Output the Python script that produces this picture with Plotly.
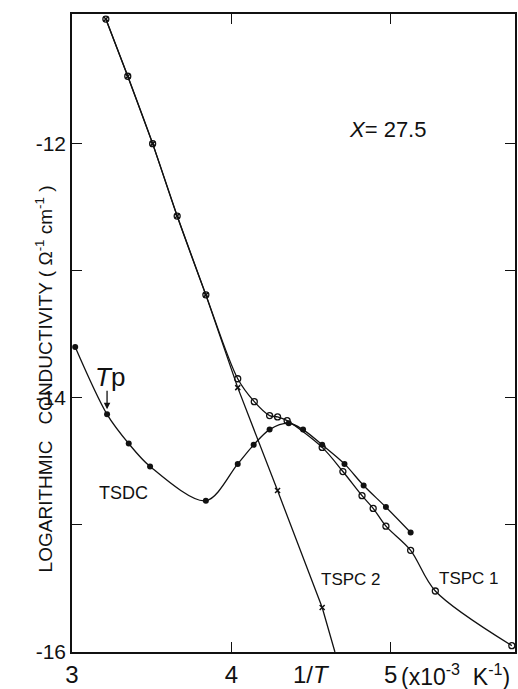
import plotly.graph_objects as go

# ---- data ----
tspc2_x = [3.2125, 3.35, 3.506, 3.66, 3.84, 4.04, 4.29, 4.57]
tspc2_y = [-11.02, -11.47, -12.00, -12.57, -13.19, -13.92, -14.73, -15.65]
tspc2_end_x = [4.65]
tspc2_end_y = [-16.0]

tspc1_x = [3.2125, 3.35, 3.506, 3.66, 3.84, 4.04, 4.144, 4.24, 4.29, 4.35,
           4.57, 4.70, 4.82, 4.89, 4.97, 5.125, 5.28, 5.76]
tspc1_y = [-11.02, -11.47, -12.00, -12.57, -13.19, -13.85, -14.03, -14.14, -14.15, -14.18,
           -14.39, -14.58, -14.77, -14.87, -15.01, -15.20, -15.52, -15.95]

tsdc_x = [3.02, 3.22, 3.356, 3.49, 3.84, 4.04, 4.14, 4.24, 4.36, 4.45,
          4.57, 4.71, 4.83, 4.97, 5.125]
tsdc_y = [-13.60, -14.13, -14.36, -14.54, -14.81, -14.52, -14.37, -14.25, -14.20, -14.25,
          -14.37, -14.52, -14.69, -14.86, -15.06]

x_ticks = [3, 4, 5]
x_ticklabels = ["3", "4", "5"]
y_ticks = [-16, -15, -14, -13, -12]
y_ticklabels = ["-16", " ", "-14", " ", "-12"]

FONT = "Liberation Sans, Arial, sans-serif"
BLACK = "#111111"

fig = go.Figure()

# TSPC2: straight line
fig.add_trace(go.Scatter(x=tspc2_x + tspc2_end_x, y=tspc2_y + tspc2_end_y, mode="lines",
                         line=dict(color=BLACK, width=1.3), showlegend=False, cliponaxis=False))
fig.add_trace(go.Scatter(x=tspc2_x, y=tspc2_y, mode="markers",
                         marker=dict(symbol="x-thin", size=5, line=dict(color=BLACK, width=1.5)),
                         showlegend=False, cliponaxis=False))
# TSPC1: open circles, smooth
fig.add_trace(go.Scatter(x=tspc1_x, y=tspc1_y, mode="lines+markers",
                         line=dict(color=BLACK, width=1.3, shape="spline", smoothing=0.9),
                         marker=dict(symbol="circle-open", size=6, color=BLACK, line=dict(width=1.3)),
                         showlegend=False, cliponaxis=False))
# TSDC: filled circles, smooth
fig.add_trace(go.Scatter(x=tsdc_x, y=tsdc_y, mode="lines+markers",
                         line=dict(color=BLACK, width=1.3, shape="spline", smoothing=0.9),
                         marker=dict(symbol="circle", size=6, color=BLACK),
                         showlegend=False, cliponaxis=False))

annotations = [
    dict(x=4.98, y=-11.89, text="<i>X</i>= 27.5", showarrow=False,
         font=dict(family=FONT, size=22, color=BLACK)),
    dict(x=3.24, y=-13.84, text="<i>T</i>p", showarrow=False,
         font=dict(family=FONT, size=26, color=BLACK)),
    dict(x=3.22, y=-14.09, text="", showarrow=True, ax=0, ay=-20,
         arrowhead=2, arrowsize=1, arrowwidth=1.3, arrowcolor=BLACK),
    dict(x=3.325, y=-14.75, text="TSDC", showarrow=False,
         font=dict(family=FONT, size=18, color=BLACK)),
    dict(x=4.75, y=-15.43, text="TSPC 2", showarrow=False,
         font=dict(family=FONT, size=17, color=BLACK)),
    dict(x=5.49, y=-15.42, text="TSPC 1", showarrow=False,
         font=dict(family=FONT, size=17, color=BLACK)),
    dict(x=4.506, y=0, yref="paper", yanchor="middle", yshift=-22, text="1/<i>T</i>",
         showarrow=False, font=dict(family=FONT, size=24, color=BLACK)),
    dict(x=5.05, y=0, yref="paper", yanchor="middle", yshift=-23, xanchor="left",
         text="(x10<sup>-3</sup>  K<sup>-1</sup>)", showarrow=False,
         font=dict(family=FONT, size=23, color=BLACK)),
    dict(x=0, xref="paper", xshift=-42, y=-13.855,
         text="LOGARITHMIC   CONDUCTIVITY ( Ω<sup>-1</sup> cm<sup>-1</sup> )",
         textangle=-90, showarrow=False, font=dict(family=FONT, size=19, color=BLACK)),
]

fig.update_layout(
    width=518, height=689,
    margin=dict(l=72, r=1, t=14, b=36),
    paper_bgcolor="white", plot_bgcolor="white",
    annotations=annotations,
    xaxis=dict(range=[3.0, 5.78], tickvals=x_ticks, ticktext=x_ticklabels,
               ticks="inside", ticklen=10, tickwidth=1.3, tickcolor=BLACK,
               showline=True, linecolor=BLACK, linewidth=1.5, mirror="ticks",
               showgrid=False, zeroline=False,
               tickfont=dict(family=FONT, size=24, color=BLACK)),
    yaxis=dict(range=[-16.0, -10.98], tickvals=y_ticks, ticktext=y_ticklabels,
               ticks="inside", ticklen=10, tickwidth=1.3, tickcolor=BLACK,
               showline=True, linecolor=BLACK, linewidth=1.5, mirror="ticks",
               showgrid=False, zeroline=False,
               tickfont=dict(family=FONT, size=21, color=BLACK)),
)

fig.write_html("out.html", config={"displayModeBar": False},
               post_script="document.body.style.margin='0';")
